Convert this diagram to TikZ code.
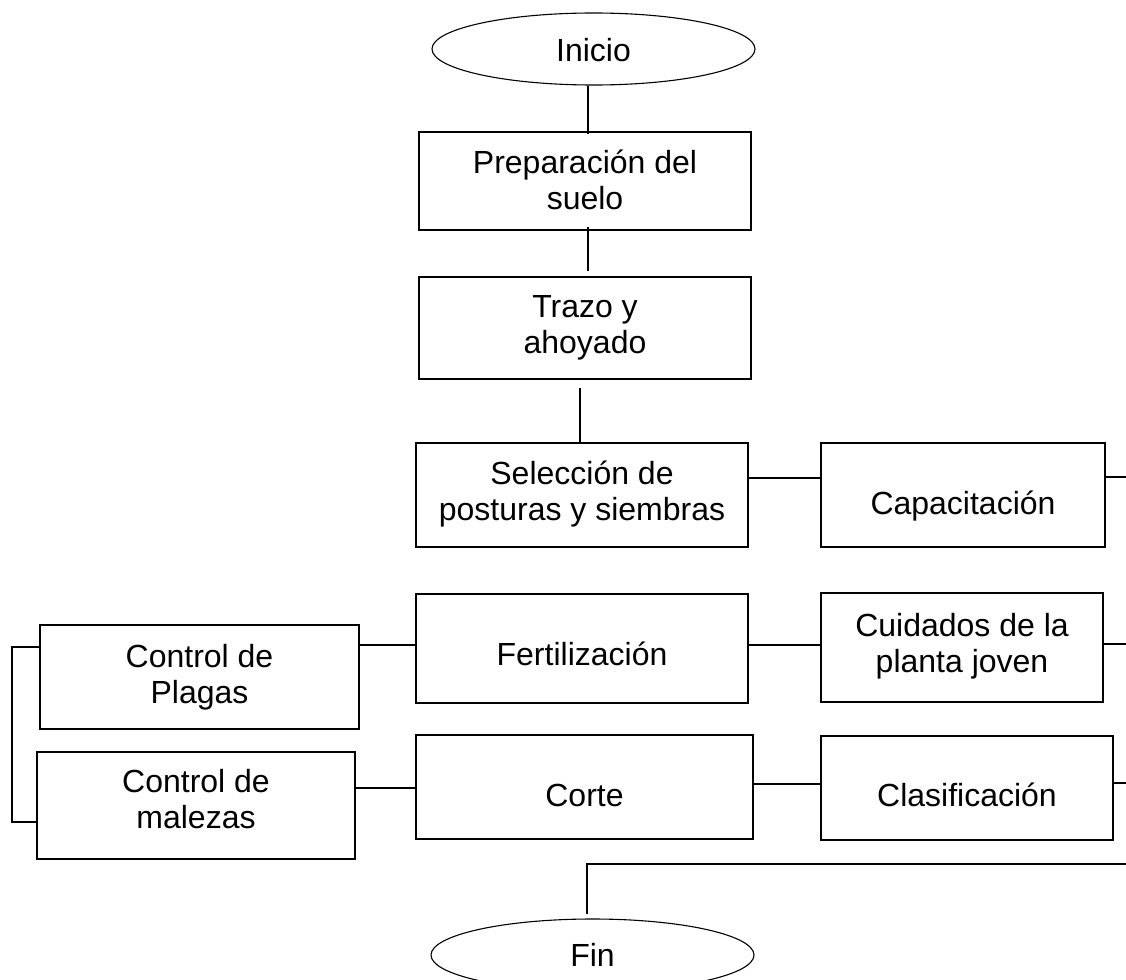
\documentclass[tikz,border=0pt]{standalone}
\usepackage{fontspec}
\setmainfont{Liberation Sans}
\usetikzlibrary{shapes.geometric}
\newcommand\txt[2][0pt]{\raisebox{#1}[\height][\depth]{\begin{tabular}{@{}c@{}}#2\end{tabular}}}
\begin{document}
\begin{tikzpicture}[x=1pt,y=-1pt,
  every node/.style={font=\fontsize{32}{36}\selectfont, inner sep=0pt},
  box/.style={draw, line width=1.3pt, rectangle},
  term/.style={draw, line width=1.1pt, ellipse, minimum width=323pt, minimum height=72pt},
  conn/.style={line width=1.3pt}]
\useasboundingbox (0,0) rectangle (1126,979);
\node[term] (inicio) at (593.5,49) {\txt[-5pt]{Inicio}};
\node[box, minimum width=332pt, minimum height=98pt] (prep) at (585,181) {\txt[-3pt]{Preparación del\\suelo}};
\node[box, minimum width=332pt, minimum height=102pt] (trazo) at (585,328) {\txt{Trazo y\\ahoyado}};
\node[box, minimum width=332pt, minimum height=104pt] (sel) at (582,495) {\txt{Selección de\\posturas y siembras}};
\node[box, minimum width=284pt, minimum height=104pt] (cap) at (963,495) {\txt[-12pt]{Capacitación}};
\node[box, minimum width=332pt, minimum height=109pt] (fert) at (582,648.5) {\txt[-10pt]{Fertilización}};
\node[box, minimum width=282pt, minimum height=109pt] (cuid) at (962,647.5) {\txt{Cuidados de la\\planta joven}};
\node[box, minimum width=319pt, minimum height=104pt] (plagas) at (199.5,677) {\txt[-1pt]{Control de\\Plagas}};
\node[box, minimum width=318pt, minimum height=107pt] (malezas) at (196,805.5) {\txt[2.5pt]{Control de\\malezas}};
\node[box, minimum width=337pt, minimum height=104pt] (corte) at (584.5,787) {\txt[-12pt]{Corte}};
\node[box, minimum width=292pt, minimum height=104pt] (clas) at (967,788) {\txt[-11pt]{Clasificación}};
\node[term] (fin) at (592.5,955) {\txt[-4pt]{Fin}};

\coordinate (capR) at (1126,477);
\coordinate (cuidR) at (1126,644);
\coordinate (clasR) at (1126,783);
\coordinate (finR) at (1126,864);
\coordinate (bracket) at (12,0);

% vertical chain
\draw[conn] ([xshift=-5.5pt]inicio.south) -- ([xshift=-5.5pt,yshift=-3pt]inicio.south |- prep.north);
\draw[conn] ([xshift=3pt,yshift=4pt]prep.south) -- ([xshift=3pt,yshift=5pt]prep.south |- trazo.north);
\draw[conn] ([xshift=-5pt,yshift=-8pt]trazo.south) -- ([xshift=-5pt]trazo.south |- sel.north);
% horizontal links
\draw[conn] ([yshift=17pt]sel.east) -- ([yshift=17pt]sel.east -| cap.west);
\draw[conn] (cap.east |- capR) -- (capR);
\draw[conn] ([yshift=3.5pt]fert.west -| plagas.east) -- ([yshift=3.5pt]fert.west);
\draw[conn] ([yshift=3.5pt]fert.east) -- ([yshift=3.5pt]fert.east -| cuid.west);
\draw[conn] (cuid.east |- cuidR) -- (cuidR);
\draw[conn] ([yshift=-1pt]corte.west -| malezas.east) -- ([yshift=-1pt]corte.west);
\draw[conn] ([yshift=3pt]corte.east) -- ([yshift=3pt]corte.east -| clas.west);
\draw[conn] (clas.east |- clasR) -- (clasR);
% left bracket
\draw[conn] ([yshift=30pt]plagas.west) -- ([yshift=30pt]plagas.west -| bracket)
  -- ([yshift=-16.5pt]malezas.west -| bracket) -- ([yshift=-16.5pt]malezas.west);
% to Fin
\draw[conn] (finR) -- ([xshift=-5.5pt]finR -| fin.north) -- ([xshift=-5.5pt,yshift=4pt]fin.north);
\end{tikzpicture}
\end{document}
